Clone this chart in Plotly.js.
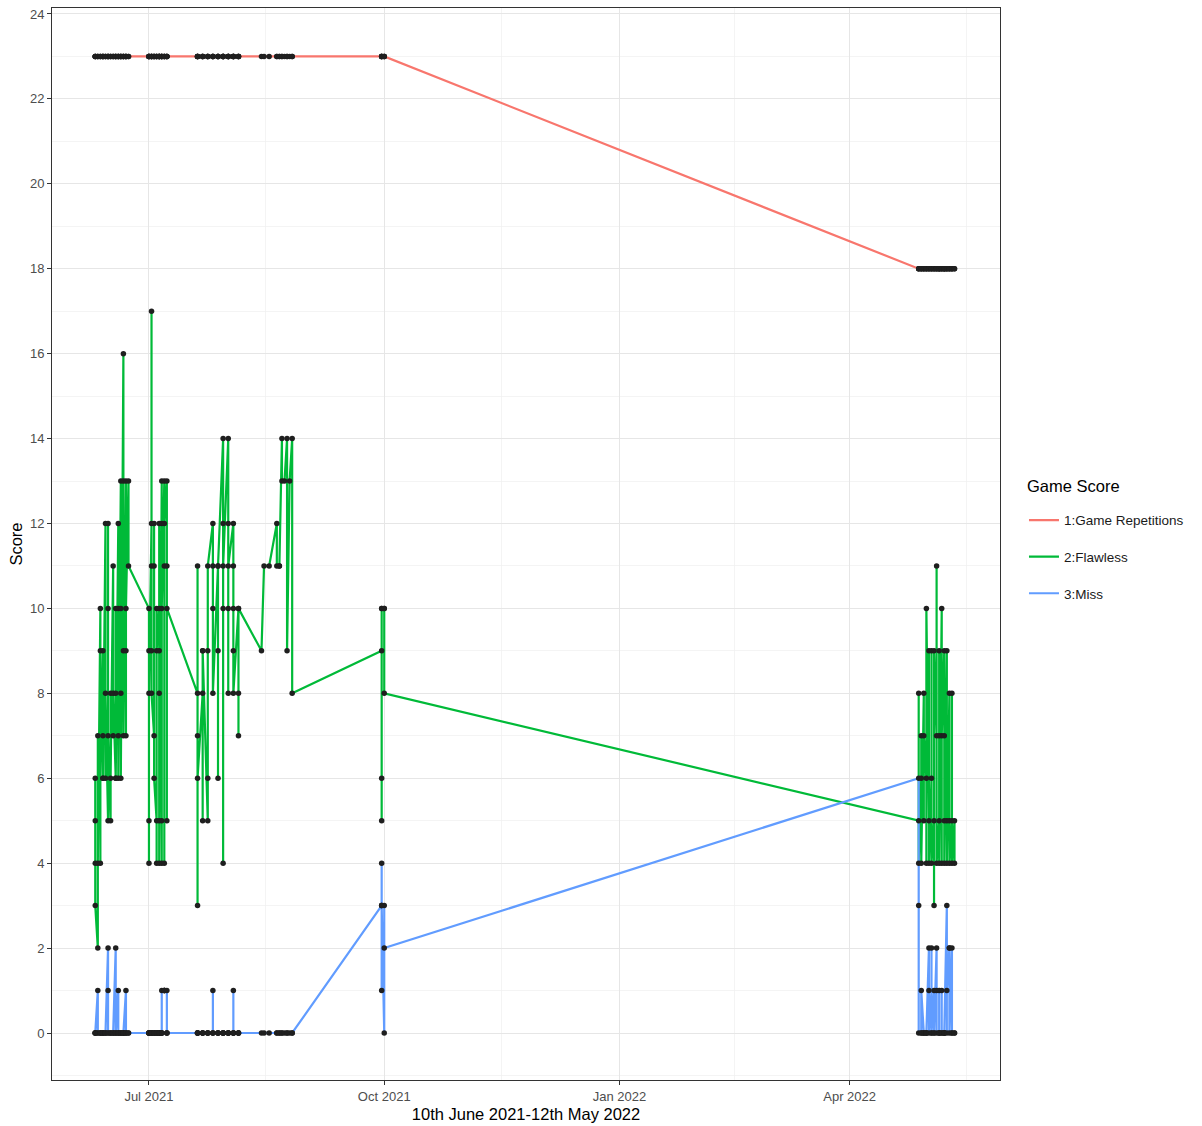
<!DOCTYPE html>
<html>
<head>
<meta charset="utf-8">
<script src="https://cdn.plot.ly/plotly-3.0.1.min.js"></script>
<style>
  html, body { margin: 0; padding: 0; background: #ffffff; }
  #chart { width: 1202px; height: 1126px; }
</style>
</head>
<body>
<div id="chart"></div>
<script>
// Training days; each day can hold several game sessions (listed in play order)
const sessionDays = [
  '2021-06-10','2021-06-11','2021-06-12','2021-06-13','2021-06-14','2021-06-15','2021-06-16',
  '2021-06-17','2021-06-18','2021-06-19','2021-06-20','2021-06-21','2021-06-22','2021-06-23',
  '2021-07-01','2021-07-02','2021-07-03','2021-07-04','2021-07-05','2021-07-06','2021-07-07','2021-07-08',
  '2021-07-20','2021-07-22','2021-07-24','2021-07-26','2021-07-28','2021-07-30','2021-08-01','2021-08-03','2021-08-05',
  '2021-08-14','2021-08-15','2021-08-17',
  '2021-08-20','2021-08-21','2021-08-22','2021-08-23','2021-08-24','2021-08-25','2021-08-26',
  '2021-09-30','2021-10-01',
  '2022-04-28','2022-04-29','2022-04-30','2022-05-01','2022-05-02','2022-05-03','2022-05-04',
  '2022-05-05','2022-05-06','2022-05-07','2022-05-08','2022-05-09','2022-05-10','2022-05-11','2022-05-12'
];

// Repetitions per game on each day
const repetitionsByDay = [
  23,23,23,23,23,23,23,23,23,23,23,23,23,23,
  23,23,23,23,23,23,23,23,
  23,23,23,23,23,23,23,23,23,
  23,23,23,
  23,23,23,23,23,23,23,
  23,23,
  18,18,18,18,18,18,18,18,18,18,18,18,18,18,18
];

// Flawless count of every session, grouped by day
const flawlessByDay = [
  [6,5,4,3],[2,7,4],[10,4,9],[6,9,7,6],[12,6,8],[5,12,10,7],[5,8,6],
  [11,7,8],[6,10,8,6],[12,7,10,6],[13,8,10,6],[16,9,13,7],[13,9,7,10],[13,11],
  [10,9,5,4,8],[12,17,11,9,8],[7,12,11,6],[5,10,4,9],[10,8,5,9,12,4],[13,4,12,5,10],[13,4,11,12],[13,5,11,10],
  [8,11,7,3,6],[8,9,5,9],[5,9,6,11],[12,10,11,8],[11,9,6,11],[14,4,10,12,11],[14,8,10,12,11],[12,10,11,9,8],[10,7,8,10],
  [9],[11],[11],
  [12,11],[11,11],[14,13],[13],[14,9],[13],[14,8],
  [9,10,5,6,10],[10,10,8],
  [5,8,4],[6,7,4],[8,5,7],[6,4,10],[5,9,4],[6,9,4],[5,3,9],
  [7,11,4],[5,7,9,4],[10,4,7],[9,5,7,4],[9,5,4],[8,4,5],[4,8,5],[4,5]
];

// Miss count of every session, grouped by day
const missByDay = [
  [0,0,0,0],[1,0,0],[0,0,0],[0,0,0,0],[0,0,0],[2,1,0,0],[0,0,0],
  [0,0,0],[2,0,0,0],[1,0,0,0],[0,0,0,0],[0,0,0,0],[1,0,0,0],[0,0],
  [0,0,0,0,0],[0,0,0,0,0],[0,0,0,0],[0,0,0,0],[0,0,0,0,0,0],[0,0,0,0,1],[1,1,1,1],[1,0,0,0],
  [0,0,0,0,0],[0,0,0,0],[0,0,0,0],[0,1,0,0],[0,0,0,0],[0,0,0,0,0],[0,0,0,0,0],[0,0,1,0,0],[0,0,0,0],
  [0],[0],[0],
  [0,0],[0,0],[0,0],[0],[0,0],[0],[0,0],
  [3,4,1,3,3],[0,3,2],
  [6,3,0],[0,0,1],[0,0,0],[0,0,0],[2,0,1],[0,2,0],[1,0,0],
  [2,1,0],[0,1,0,0],[0,1,0],[0,0,0,0],[3,0,1],[2,0,2],[0,2,0],[0,0]
];

const seriesNames = ['1:Game Repetitions', '2:Flawless', '3:Miss'];
const seriesColors = ['#F8766D', '#00BA38', '#619CFF'];
const legendTitle = 'Game Score';
const xTitle = '10th June 2021-12th May 2022';
const yTitle = 'Score';
const tickDates = ['2021-07-01', '2021-10-01', '2022-01-01', '2022-04-01'];
const tickLabels = ['Jul 2021', 'Oct 2021', 'Jan 2022', 'Apr 2022'];
const minorTickDates = ['2021-08-15 12:00', '2021-11-16', '2022-02-15', '2022-05-16 12:00'];

// Flatten the per-day session lists into one row per session
const x = [], reps = [], flawless = [], miss = [];
sessionDays.forEach((day, i) => {
  flawlessByDay[i].forEach((f, j) => {
    x.push(day);
    reps.push(repetitionsByDay[i]);
    flawless.push(f);
    miss.push(missByDay[i][j]);
  });
});
const seriesValues = [reps, flawless, miss];

const font = 'Liberation Sans, Arial, Helvetica, sans-serif';

// Lines first, then the black session dots on top of all of them
const traces = [];
seriesValues.forEach((vals, k) => {
  traces.push({
    type: 'scatter', mode: 'lines', x: x, y: vals,
    name: seriesNames[k], legendgroup: 'g' + k,
    line: { color: seriesColors[k], width: 2.2 },
    hoverinfo: 'skip'
  });
});
seriesValues.forEach((vals, k) => {
  traces.push({
    type: 'scatter', mode: 'markers', x: x, y: vals,
    showlegend: false, legendgroup: 'g' + k,
    marker: { color: '#1f1f1f', size: 5.5 },
    hoverinfo: 'skip'
  });
});

const layout = {
  width: 1202, height: 1126,
  margin: { l: 52, r: 202, t: 8, b: 46 },
  paper_bgcolor: '#ffffff', plot_bgcolor: '#ffffff',
  font: { family: font, color: '#000000' },
  showlegend: true,
  legend: {
    x: 1.0253, xanchor: 'left', y: 0.5365, yanchor: 'top',
    font: { size: 13.5, color: '#1a1a1a' },
    tracegroupgap: 16, itemwidth: 30,
    bgcolor: 'rgba(0,0,0,0)'
  },
  annotations: [{
    text: legendTitle, xref: 'paper', yref: 'paper',
    x: 1.0264, xanchor: 'left', y: 0.554, yanchor: 'middle',
    showarrow: false, font: { size: 16.5, color: '#000' }
  }],
  xaxis: {
    type: 'date',
    range: ['2021-05-24 02:00', '2022-05-29 19:00'],
    tickmode: 'array', tickvals: tickDates, ticktext: tickLabels,
    tickfont: { size: 13, color: '#4d4d4d' },
    ticks: 'outside', ticklen: 4, tickcolor: '#333333', tickwidth: 1,
    showgrid: true, gridcolor: '#e6e6e6', gridwidth: 1,
    minor: { tickmode: 'array', tickvals: minorTickDates, showgrid: true, gridcolor: '#f0f0f0', gridwidth: 0.7, ticks: '' },
    showline: true, mirror: true, linecolor: '#333333', linewidth: 1,
    zeroline: false,
    title: { text: xTitle, font: { size: 16.5, color: '#000' }, standoff: 5 },
    automargin: false
  },
  yaxis: {
    range: [-1.107, 24.14],
    tickmode: 'linear', tick0: 0, dtick: 2,
    tickfont: { size: 13, color: '#4d4d4d' },
    ticks: 'outside', ticklen: 4, tickcolor: '#333333', tickwidth: 1,
    showgrid: true, gridcolor: '#e6e6e6', gridwidth: 1,
    minor: { dtick: 1, showgrid: true, gridcolor: '#f0f0f0', gridwidth: 0.7, ticks: '' },
    showline: true, mirror: true, linecolor: '#333333', linewidth: 1,
    zeroline: false,
    title: { text: yTitle, font: { size: 16.5, color: '#000' }, standoff: 3 },
    automargin: false
  }
};

Plotly.newPlot('chart', traces, layout, { displayModeBar: false, staticPlot: true });
</script>
</body>
</html>
